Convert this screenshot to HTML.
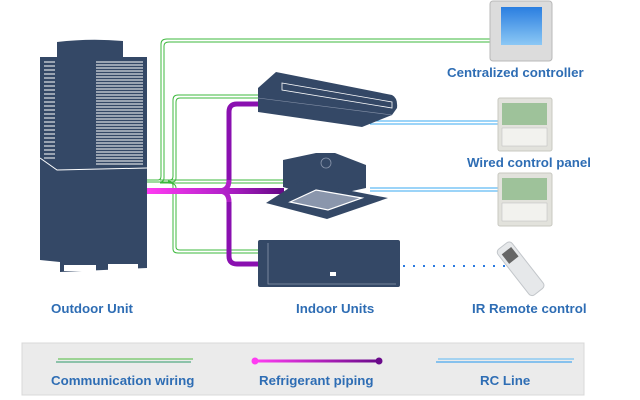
<!DOCTYPE html>
<html><head><style>
body{margin:0;background:#fff;}
svg{display:block;}
text{font-family:"Liberation Sans",sans-serif;font-weight:bold;fill:#2e6db4;font-size:13.3px;}
</style></head><body>
<svg width="640" height="400" viewBox="0 0 640 400" xmlns="http://www.w3.org/2000/svg">
<defs>
<linearGradient id="mg" gradientUnits="userSpaceOnUse" x1="147" y1="0" x2="280" y2="0"><stop offset="0" stop-color="#ff3cf2"/><stop offset="0.6" stop-color="#b020c8"/><stop offset="1" stop-color="#6a0a8a"/></linearGradient>
<linearGradient id="mg2" gradientUnits="userSpaceOnUse" x1="255" y1="0" x2="379" y2="0"><stop offset="0" stop-color="#ff3cf2"/><stop offset="1" stop-color="#6a0a8a"/></linearGradient>
<linearGradient id="scr" x1="0" y1="0" x2="0" y2="1"><stop offset="0" stop-color="#2a7ee0"/><stop offset="1" stop-color="#8cc8f5"/></linearGradient>
</defs>
<!-- green wires -->
<g fill="none" stroke="#3cb83c" stroke-width="1">
<path d="M147 180 H158 Q161 180 161 176 V44 Q161 39 167 39 H492"/>
<path d="M147 182 H160 Q164 182 164 178 V46 Q164 42 169 42 H492"/>
<path d="M160 180 H170 Q173 180 173 176 V100 Q173 95 178 95 H258"/>
<path d="M160 182 H172 Q176 182 176 178 V102 Q176 98 180 98 H258"/>
<path d="M160 180 H285"/><path d="M160 183 H285"/>
<path d="M168 181 Q173 181 173 186 V249 Q173 253 178 253 H260"/>
<path d="M168 183 Q176 183 176 188 V247 Q176 250 180 250 H260"/>
</g>
<!-- refrigerant -->
<path d="M229 180 V112 Q229 104 237 104 H258" stroke="#8a10b0" stroke-width="5" fill="none"/>
<path d="M229 202 V256 Q229 264 237 264 H260" stroke="#8a10b0" stroke-width="5" fill="none"/>
<path d="M218 191 Q229 191 229 180 M218 191 Q229 191 229 202" stroke="#b020c8" stroke-width="5" fill="none"/>
<path d="M147 191 H284" stroke="url(#mg)" stroke-width="6" fill="none"/>
<!-- blue RC lines -->
<g stroke="#3aa8f0" stroke-width="1" fill="none">
<path d="M370 121 H498"/><path d="M370 124 H498"/>
<path d="M370 188 H498"/><path d="M370 191 H498"/>
</g>
<path d="M403 266 H505" stroke="#2a7ae0" stroke-width="2" stroke-dasharray="2 8" fill="none"/>
<!-- outdoor unit -->
<path d="M57 42 Q90 38 123 41 V57 L147 57 V268 L60 272 V262 L40 260 V57 L57 57 Z" fill="#344866"/>
<g stroke="#fff" stroke-width="1">
<path d="M44 62 H55 M44 66 H55 M44 70 H55 M44 74 H55 M44 78 H55 M44 82 H55 M44 86 H55 M44 90 H55 M44 94 H55 M44 98 H55 M44 102 H55 M44 106 H55 M44 110 H55 M44 114 H55 M44 118 H55 M44 122 H55 M44 126 H55 M44 130 H55 M44 134 H55 M44 138 H55 M44 142 H55 M44 146 H55 M44 150 H55 M44 154 H55 M44 158 H55"/>
<path d="M96 62 H143 M96 65 H143 M96 68 H143 M96 71 H143 M96 74 H143 M96 77 H143 M96 80 H143 M96 83 H143 M96 86 H143 M96 89 H143 M96 92 H143 M96 95 H143 M96 98 H143 M96 101 H143 M96 104 H143 M96 107 H143 M96 110 H143 M96 113 H143 M96 116 H143 M96 119 H143 M96 122 H143 M96 125 H143 M96 128 H143 M96 131 H143 M96 134 H143 M96 137 H143 M96 140 H143 M96 143 H143 M96 146 H143 M96 149 H143 M96 152 H143 M96 155 H143 M96 158 H143 M96 161 H143 M96 164 H143"/>
<path d="M40 158 L57 170 L147 168" fill="none"/>
</g>
<rect x="64" y="265" width="32" height="6" fill="#fff"/><rect x="108" y="264" width="30" height="6" fill="#fff"/>
<!-- ceiling unit -->
<path d="M258 88 L276 72 L392 95 Q398 98 397 108 L392 115 L362 127 L258 112 Z" fill="#344866"/>
<path d="M282 83 L392 102 L392 108 L282 90 Z" fill="none" stroke="#fff" stroke-width="0.8"/>
<path d="M258 98 L392 115" stroke="#8894aa" stroke-width="0.6"/>
<!-- cassette -->
<path d="M283 172 V160 L316 153 L335 153 L366 165 V188 L320 198 L283 187 Z" fill="#344866"/>
<path d="M266 203 L300 181 L388 198 L327 219 Z" fill="#344866"/>
<path d="M290 202 L316 190 L362 198 L328 210 Z" fill="#8a96ac" stroke="#fff" stroke-width="1.2"/>
<circle cx="326" cy="163" r="5" fill="none" stroke="#8a96ac" stroke-width="0.8"/>
<!-- wall unit -->
<rect x="258" y="240" width="142" height="47" rx="2" fill="#344866"/>
<path d="M268 243 V284 H396" fill="none" stroke="#8a96ac" stroke-width="0.8"/>
<rect x="330" y="272" width="6" height="4" fill="#fff"/>
<!-- centralized controller -->
<rect x="490" y="1" width="62" height="60" rx="3" fill="#dcdcdc" stroke="#b8b8b8"/>
<rect x="501" y="7" width="41" height="38" fill="url(#scr)"/>
<!-- wired panels -->
<rect x="498" y="98" width="54" height="53" rx="2" fill="#e2e2dc" stroke="#c8c8c0"/>
<rect x="502" y="103" width="45" height="22" fill="#9ec29a"/>
<rect x="502" y="128" width="45" height="18" fill="#f2f2ee" stroke="#bbb" stroke-width="0.5"/>
<rect x="498" y="173" width="54" height="53" rx="2" fill="#e2e2dc" stroke="#c8c8c0"/>
<rect x="502" y="178" width="45" height="22" fill="#9ec29a"/>
<rect x="502" y="203" width="45" height="18" fill="#f2f2ee" stroke="#bbb" stroke-width="0.5"/>
<!-- remote -->
<g transform="translate(520 268) rotate(-38)">
<rect x="-9" y="-28" width="18" height="58" rx="4" fill="#e6e8ea" stroke="#c2c6ca"/>
<rect x="-6" y="-22" width="12" height="12" fill="#666"/>
</g>
<text x="447" y="77">Centralized controller</text>
<text x="467" y="167">Wired control panel</text>
<text x="51" y="313">Outdoor Unit</text>
<text x="296" y="313">Indoor Units</text>
<text x="472" y="313">IR Remote control</text>
<!-- legend -->
<rect x="22" y="343" width="562" height="52" fill="#ebebeb" stroke="#d8d8d8"/>
<path d="M58 359 H193" stroke="#4cbb3c" stroke-width="1"/><path d="M56 362 H191" stroke="#2e9a6a" stroke-width="1"/>
<path d="M255 361 H379" stroke="url(#mg2)" stroke-width="3"/>
<circle cx="255" cy="361" r="3.5" fill="#ff3cf2"/><circle cx="379" cy="361" r="3.5" fill="#6a0a8a"/>
<path d="M438 359 H574" stroke="#7ac4f4" stroke-width="1.2"/><path d="M436 362 H572" stroke="#4aa8ee" stroke-width="1.2"/>
<text x="51" y="385">Communication wiring</text>
<text x="259" y="385">Refrigerant piping</text>
<text x="480" y="385">RC Line</text>
</svg>
</body></html>
